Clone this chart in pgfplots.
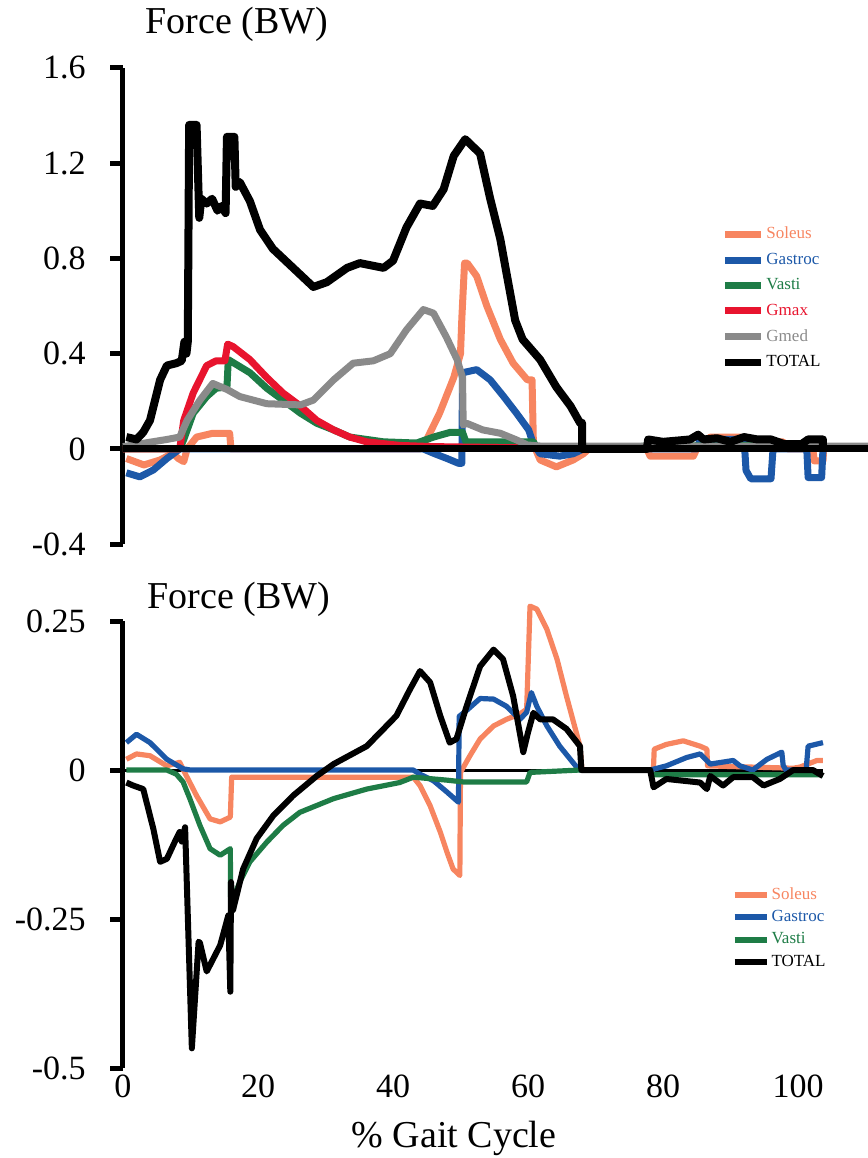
\documentclass[border=0pt]{standalone}
\usepackage{pgfplots}
\pgfplotsset{compat=1.18}
\usepackage{fontspec}
\setmainfont{Liberation Serif}
\definecolor{soleus}{RGB}{247,133,96}
\definecolor{gastroc}{RGB}{28,88,168}
\definecolor{vasti}{RGB}{30,124,70}
\definecolor{gmax}{RGB}{232,20,46}
\definecolor{gmed}{RGB}{138,138,138}
\begin{document}
\begin{tikzpicture}
\useasboundingbox (0,0) rectangle (434pt,-579pt);
% ---------------- TOP ----------------
\begin{axis}[at={(61.5pt,-272.15pt)}, anchor=south west, scale only axis,
  width=372.5pt, height=238.3pt, xmin=0, xmax=110.37, ymin=-0.4, ymax=1.6, clip=false,
  axis y line=left, axis x line=none, y axis line style={-, line width=2.5pt},
  ytick={-0.4,0,0.4,0.8,1.2,1.6}, yticklabels={-0.4,0,0.4,0.8,1.2,1.6},
  tick align=outside, major tick length=6.5pt, tick style={line width=2.5pt, black},
  yticklabel style={font=\fontsize{17}{20}\selectfont, inner sep=0pt, xshift=-12pt},
  xtick=\empty,
  legend style={at={(axis cs:88.6,0.942)}, anchor=north west, draw=none, fill=none, inner sep=0pt,
    row sep=3.6pt, font=\fontsize{8.5}{10}\selectfont, nodes={inner sep=1pt}},
  legend cell align=left,
  legend image code/.code={\draw[#1, line width=3.5pt] (0pt,0pt) -- (18pt,0pt);},
  every axis plot/.append style={line width=3.5pt, line join=round}]
\addplot[soleus] coordinates {(0.5,-0.04) (3.1,-0.067) (5.5,-0.046) (7.4,-0.018) (8.2,-0.04) (9.0,-0.053) (9.5,0.0) (10.9,0.05) (13.3,0.066) (15.8,0.066) (16.0,0.0) (44,0) (45.0,0.04) (46.9,0.15) (49.0,0.30) (50.0,0.40) (50.2,0.55) (50.6,0.78) (51.0,0.78) (52.4,0.725) (53.9,0.60) (55.9,0.46) (57.8,0.36) (59.9,0.29) (60.6,0.29) (60.8,0.02) (61.8,-0.046) (64.2,-0.075) (66.7,-0.046) (68.2,-0.02) (69,0) (77.6,0) (78.1,-0.03) (84.5,-0.03) (85,0.0) (87,0.05) (91.4,0.05) (92.9,0.03) (97.8,0.03) (98.5,0) (102.2,0) (102.4,-0.05) (103.7,-0.05) (103.8,0)};
\addlegendentry{\textcolor{soleus}{Soleus}}
\addplot[gastroc] coordinates {(0.5,-0.10) (2.5,-0.117) (4.5,-0.088) (6.5,-0.04) (8.4,0) (44.5,0) (46.0,-0.018) (48.0,-0.04) (49.7,-0.06) (50.2,-0.06) (50.3,0.32) (52.4,0.333) (54.4,0.29) (56.4,0.22) (58.3,0.15) (60.1,0.08) (60.8,0.02) (61.8,-0.02) (64.7,-0.03) (66.7,-0.02) (68.2,0) (85,0) (85.5,0.04) (91.4,0.04) (92.0,0.05) (92.3,-0.09) (93,-0.125) (96,-0.125) (96.3,0) (101.3,0) (101.5,-0.12) (103.5,-0.12) (103.7,0)};
\addlegendentry{\textcolor{gastroc}{Gastroc}}
\addplot[vasti] coordinates {(0,0) (8.4,0) (9.0,0.04) (10.4,0.15) (12.4,0.22) (13.8,0.255) (15.4,0.26) (15.6,0.375) (18.8,0.32) (21.3,0.255) (23.7,0.205) (26.3,0.15) (28.7,0.108) (31.2,0.08) (33.6,0.05) (38.6,0.03) (43.5,0.025) (46.0,0.05) (48.5,0.07) (50.3,0.07) (50.8,0.03) (60.8,0.03) (61.2,0.01) (68,0.01) (68.5,0) (78,0.012) (103.7,0.015)};
\addlegendentry{\textcolor{vasti}{Vasti}}
\addplot[gmax] coordinates {(0,0) (8.4,0.0) (9.0,0.12) (10.4,0.235) (12.4,0.35) (13.8,0.37) (15.1,0.37) (15.5,0.44) (16.3,0.43) (18.8,0.375) (21.3,0.30) (23.7,0.235) (26.3,0.18) (28.7,0.12) (31.2,0.08) (33.6,0.05) (36.1,0.03) (41.0,0.015) (46,0.01) (58.8,0.005) (59,0)};
\addlegendentry{\textcolor{gmax}{Gmax}}
\addplot[gmed] coordinates {(0,0.01) (6.5,0.04) (8.4,0.05) (9.5,0.12) (11.4,0.205) (13.3,0.275) (15.4,0.25) (17.3,0.22) (21.3,0.19) (26.3,0.185) (28.2,0.205) (31.2,0.29) (34.1,0.36) (37.1,0.37) (39.6,0.40) (42.0,0.50) (44.5,0.585) (46.0,0.57) (47.9,0.47) (49.5,0.375) (50.3,0.30) (50.4,0.10) (50.9,0.108) (53.3,0.08) (55.9,0.066) (58.3,0.038) (59.9,0.017) (62,0.012) (110.37,0.012)};
\addlegendentry{\textcolor{gmed}{Gmed}}
\addplot[black, line width=4pt] coordinates {(0.5,0.05) (2.0,0.04) (3.0,0.07) (4.0,0.12) (5.5,0.29) (6.5,0.35) (7.9,0.36) (8.7,0.37) (9.1,0.45) (9.4,0.40) (9.6,0.45) (9.8,1.36) (10.9,1.36) (11.3,0.97) (11.6,1.05) (12.4,1.03) (13.2,1.05) (14.0,1.0) (14.6,1.02) (15.2,0.99) (15.4,1.31) (16.5,1.31) (16.7,1.10) (17.3,1.12) (18.8,1.04) (20.3,0.92) (22.2,0.84) (25.2,0.76) (28.2,0.68) (30.2,0.70) (33.2,0.76) (35.1,0.78) (38.6,0.76) (40.0,0.79) (42.0,0.93) (44.0,1.03) (45.9,1.02) (47.5,1.09) (49.0,1.23) (50.7,1.30) (52.9,1.24) (54.4,1.05) (55.9,0.88) (56.8,0.74) (58.1,0.54) (59.2,0.46) (61.8,0.375) (64.2,0.26) (66.3,0.18) (67.7,0.11) (68.0,0.11) (68.0,0) (77.6,0) (77.8,0.04) (80,0.03) (82,0.035) (84,0.04) (85.2,0.06) (86,0.04) (88,0.045) (90,0.03) (92,0.05) (94,0.04) (96,0.04) (98,0.02) (100.5,0.02) (101.5,0.04) (103.7,0.04) (103.7,0)};
\addlegendentry{\textcolor{black}{TOTAL}}
\addplot[black, line width=3.5pt, forget plot] coordinates {(0,0) (110.37,0)};
\end{axis}
% ---------------- BOTTOM ----------------
\begin{axis}[at={(61.5pt,-534pt)}, anchor=south west, scale only axis,
  width=372.5pt, height=223.5pt, xmin=0, xmax=110.37, ymin=-0.5, ymax=0.25, clip=false,
  axis y line=left, axis x line*=bottom, y axis line style={-, line width=2.5pt},
  x axis line style={draw=none}, xtick style={draw=none},
  ytick={-0.5,-0.25,0,0.25}, yticklabels={-0.5,-0.25,0,0.25},
  xtick={0,20,40,60,80,100}, xticklabels={0,20,40,60,80,100},
  tick align=outside, major tick length=6.5pt, tick style={line width=2.5pt, black},
  yticklabel style={font=\fontsize{17}{20}\selectfont, inner sep=0pt, xshift=-12pt},
  xticklabel style={font=\fontsize{17}{20}\selectfont, inner sep=0pt, yshift=3.5pt},
  legend style={at={(axis cs:90.1,-0.193)}, anchor=north west, draw=none, fill=none, inner sep=0pt,
    row sep=2pt, font=\fontsize{8.5}{10}\selectfont, nodes={inner sep=1pt}},
  legend cell align=left,
  legend image code/.code={\draw[#1, line width=3pt] (0pt,0pt) -- (16pt,0pt);},
  every axis plot/.append style={line width=2.6pt, line join=round}]
\addplot[black, line width=1.5pt, forget plot] coordinates {(0,0) (103.7,0)};
\addplot[soleus] coordinates {(0.5,0.018) (2.0,0.027) (4.0,0.024) (6.5,0.007) (8.4,0.013) (9.4,-0.01) (10.9,-0.043) (12.9,-0.082) (14.4,-0.087) (15.9,-0.079) (16.1,-0.012) (43.0,-0.012) (44.0,-0.026) (45.5,-0.06) (47.0,-0.104) (48.0,-0.138) (48.9,-0.166) (49.9,-0.177) (50.0,-0.004) (51.4,0.024) (52.9,0.052) (54.9,0.074) (56.8,0.085) (58.8,0.094) (59.8,0.102) (60.3,0.275) (61.3,0.27) (62.8,0.236) (64.3,0.186) (65.7,0.124) (67.7,0.04) (68.0,0) (78.5,0) (78.6,0.007) (78.7,0.035) (80.5,0.043) (83.0,0.049) (85.5,0.04) (86.5,0.035) (86.6,0.007) (99.3,0.003) (100.3,0.005) (102.8,0.016) (103.7,0.016)};
\addlegendentry{\textcolor{soleus}{Soleus}}
\addplot[gastroc] coordinates {(0.5,0.046) (2.0,0.06) (4.0,0.046) (6.5,0.018) (8.9,0.002) (10,0) (43,0) (44.0,-0.007) (46.0,-0.018) (48.0,-0.037) (49.7,-0.054) (49.8,0.09) (50.9,0.10) (52.9,0.12) (54.9,0.119) (56.8,0.107) (58.8,0.085) (59.8,0.097) (60.5,0.13) (61.3,0.107) (62.8,0.074) (64.7,0.04) (67.2,0.005) (67.7,0) (78.1,0) (80.5,0.007) (83.5,0.021) (85.5,0.027) (87.0,0.01) (90.4,0.016) (91.4,0.007) (93.3,0.0) (95.4,0.018) (97.6,0.03) (97.8,0.008) (98.2,0) (101.2,0) (101.5,0.04) (103.7,0.046)};
\addlegendentry{\textcolor{gastroc}{Gastroc}}
\addplot[vasti] coordinates {(0.5,0) (6.5,0) (7.9,-0.007) (8.9,-0.02) (9.9,-0.048) (11.4,-0.093) (12.9,-0.132) (14.4,-0.143) (15.9,-0.132) (15.95,-0.232) (16.3,-0.215) (17.3,-0.188) (18.8,-0.154) (21.3,-0.121) (23.7,-0.093) (26.2,-0.071) (31.2,-0.048) (36.1,-0.032) (41.0,-0.021) (43.0,-0.012) (48,-0.017) (50.4,-0.02) (59.8,-0.02) (60.3,-0.004) (67.7,0) (78.1,0) (78.3,-0.008) (103.7,-0.008)};
\addlegendentry{\textcolor{vasti}{Vasti}}
\addplot[black, line width=3pt] coordinates {(0.5,-0.021) (1.5,-0.026) (3.0,-0.032) (4.5,-0.099) (5.5,-0.154) (6.5,-0.149) (7.9,-0.115) (8.4,-0.104) (8.7,-0.12) (9.2,-0.096) (10.2,-0.467) (11.2,-0.288) (11.4,-0.29) (12.4,-0.338) (14.4,-0.294) (15.6,-0.244) (15.9,-0.372) (16.0,-0.188) (16.3,-0.235) (17.8,-0.166) (19.8,-0.115) (22.3,-0.076) (25.2,-0.043) (28.7,-0.01) (31.2,0.01) (36.1,0.04) (38.1,0.063) (40.5,0.091) (42.5,0.135) (44.0,0.166) (45.5,0.147) (47.0,0.091) (48.4,0.046) (49.4,0.052) (50.9,0.107) (52.9,0.174) (54.9,0.202) (56.3,0.186) (57.8,0.124) (59.3,0.03) (60.0,0.063) (60.8,0.096) (61.8,0.085) (63.7,0.085) (65.7,0.069) (67.7,0.04) (67.9,0) (78.1,0) (78.6,-0.029) (80.5,-0.015) (85.5,-0.021) (86.5,-0.032) (87.0,-0.01) (88.9,-0.026) (90.4,-0.012) (93.3,-0.012) (94.9,-0.026) (97.3,-0.015) (99.3,0) (102.2,0) (103.7,-0.01)};
\addlegendentry{\textcolor{black}{TOTAL}}
\end{axis}
\node[anchor=base west, font=\fontsize{19}{22}\selectfont, inner sep=0pt] at (72.5pt,-16.5pt) {Force (BW)};
\node[anchor=base west, font=\fontsize{19}{22}\selectfont, inner sep=0pt] at (73.5pt,-304pt) {Force (BW)};
\node[anchor=base, font=\fontsize{19}{22}\selectfont, inner sep=0pt] at (227pt,-573.5pt) {\% Gait Cycle};
\end{tikzpicture}
\end{document}
